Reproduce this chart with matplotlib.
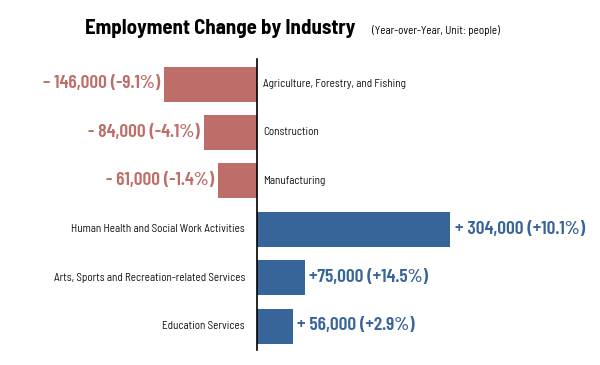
import matplotlib.pyplot as plt

industries = [
    "Agriculture, Forestry, and Fishing",
    "Construction",
    "Manufacturing",
    "Human Health and Social Work Activities",
    "Arts, Sports and Recreation-related Services",
    "Education Services",
]
change = [-146000, -84000, -61000, 304000, 75000, 56000]
value_labels = [
    "\u2013 146,000 (-9.1%)",
    "- 84,000 (-4.1%)",
    "- 61,000 (-1.4%)",
    "+ 304,000 (+10.1%)",
    "+75,000 (+14.5%)",
    "+ 56,000 (+2.9%)",
]

red = "#BF6D68"
blue = "#386599"
font = ["Barlow Semi Condensed", "DejaVu Sans"]
font_num = ["Barlow Condensed", "Barlow Semi Condensed", "DejaVu Sans"]

fig = plt.figure(figsize=(6, 3.65), dpi=100)
ax = fig.add_axes([0, 0, 1, 1])
ax.set_xlim(-405000, 540000)
ax.set_ylim(365, 0)
ax.axis("off")

ys = [84 + 48.4 * i for i in range(len(change))]
colors = [red if v < 0 else blue for v in change]
ax.barh(ys, change, height=35, color=colors)
ax.plot([0, 0], [59, 350], color="black", linewidth=1.2)

pad = 7000
for y, v, name, lab, c in zip(ys, change, industries, value_labels, colors):
    if v < 0:
        ax.text(v - pad, y, lab, ha="right", va="center", color=c,
                fontsize=14, fontweight="semibold", family=font_num)
        ax.text(9000, y, name, ha="left", va="center", color="#111111",
                fontsize=8, family=font)
    else:
        ax.text(v + pad, y, lab, ha="left", va="center", color=c,
                fontsize=14, fontweight="semibold", family=font_num)
        ax.text(-19000, y, name, ha="right", va="center", color="#111111",
                fontsize=8, family=font)

fig.text(85 / 600, 1 - 29 / 365, "Employment Change by Industry", ha="left",
         va="center", fontsize=15, fontweight="bold", family=font)
fig.text(372 / 600, 1 - 31 / 365, "(Year-over-Year, Unit: people)", ha="left",
         va="center", fontsize=8, family=font)

fig.savefig("out.png", dpi=100)
